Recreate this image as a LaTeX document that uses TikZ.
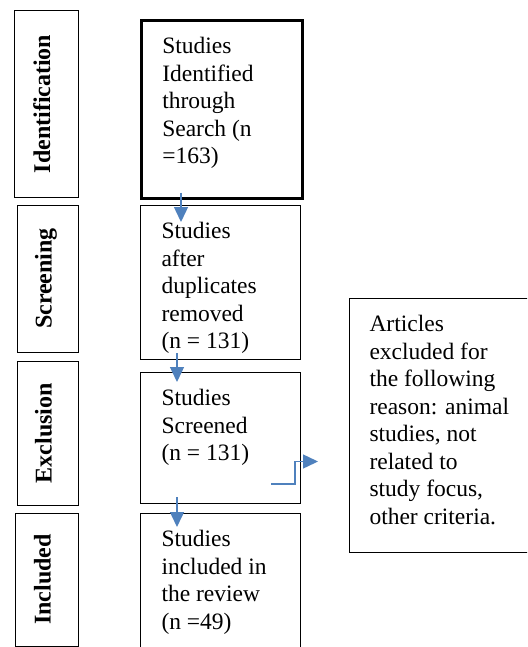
\documentclass[tikz,border=0pt]{standalone}
\usepackage{fontspec}
\setmainfont{Liberation Serif}
\usetikzlibrary{arrows.meta, positioning}
\usepackage{xcolor}
\definecolor{flowblue}{RGB}{79,129,189}
\newcommand{\boxtext}[3]{\parbox[t][#2][t]{#1}{\strut#3}}

\tikzset{
	stagebox/.style={draw, line width=1pt, rotate=90, inner sep=0pt, text height=16pt, text depth=8pt, font=\fontsize{24}{27.5}\selectfont\bfseries},
	flowbox/.style={draw, line width=1pt, anchor=north west, inner xsep=21pt, inner ysep=14pt, font=\fontsize{23.5}{27.5}\selectfont},
	flowarrow/.style={flowblue, line width=1.4pt, -{Triangle[width=14pt,length=15pt]}}
}

\begin{document}
\begin{tikzpicture}[x=1pt,y=-1pt]
		\useasboundingbox (0,0) rectangle (527,647);
		\clip (0,0) rectangle (527,647);

		% stages
		\node[stagebox, minimum width=186pt, minimum height=64pt] (ident) at (46,104) {Identification};
		\node[stagebox, minimum width=147pt, minimum height=61pt] (screen) at (47.5,278.5) {Screening};
		\node[stagebox, minimum width=144pt, minimum height=61pt] (exclus) at (47.5,433) {Exclusion};
		\node[stagebox, minimum width=133pt, minimum height=63pt] (incl) at (46.5,579.5) {Included};

		% flow
		\node[flowbox, line width=2.6pt] (search) at (140,19) {\boxtext{119pt}{150pt}{Studies\\Identified\\through\\Search (n\\=163)}};
		\node[flowbox] (dedup) at (140,205) {\boxtext{118pt}{126pt}{Studies\\after\\duplicates\\removed\\(n = 131)}};
		\node[flowbox] (screened) at (140,372) {\boxtext{118pt}{103pt}{Studies\\Screened\\(n = 131)}};
		\node[flowbox] (included) at (140,513) {\boxtext{118pt}{160pt}{Studies\\included in\\the review\\(n =49)}};
		\node[flowbox, inner xsep=20pt] (excluded) at (349,298) {\boxtext{190pt}{226pt}{Articles\\excluded for\\the following\\reason: animal\\studies, not\\related to\\study focus,\\other criteria.}};

		\draw[flowarrow] ([xshift=41pt,yshift=7pt]search.south west) -- ([xshift=41pt,yshift=-17pt]dedup.north west);
		\draw[flowarrow] ([xshift=37pt,yshift=7pt]dedup.south west) -- ([xshift=37pt,yshift=-10pt]screened.north west);
		\draw[flowarrow] ([xshift=37pt,yshift=7pt]screened.south west) -- ([xshift=37pt,yshift=-14pt]included.north west);
		\draw[flowarrow] ([xshift=-30pt,yshift=20pt]screened.south east) -- ++(24,0) |- ([xshift=-31pt,yshift=-36pt]excluded.west);
	\end{tikzpicture}
\end{document}
